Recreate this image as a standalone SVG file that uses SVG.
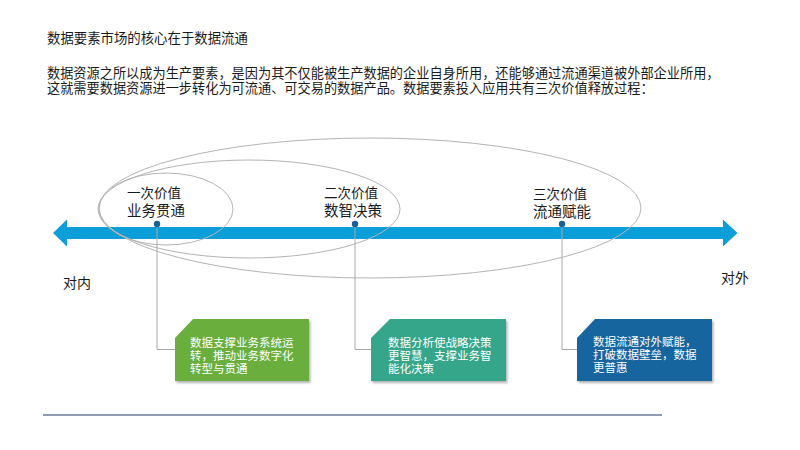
<svg xmlns="http://www.w3.org/2000/svg" width="800" height="450" viewBox="0 0 800 450">
<defs>
<style>
text{font-family:"Liberation Sans","Noto Sans CJK SC",sans-serif;fill:#1a1a1a}
.title{font-size:13.4px}
.para{font-size:13.2px}
.lbl1{font-size:13.5px}
.lbl2{font-size:14.5px}
.side{font-size:14px}
.bt{font-size:11.5px;fill:#ffffff}
.ell{fill:none;stroke:#b4b4b4;stroke-width:1}
.conn{fill:none;stroke:#a8a8a8;stroke-width:1}
.dot{fill:#1d5f93}
</style>
<filter id="sh" x="-10%" y="-10%" width="125%" height="130%">
<feDropShadow dx="1.5" dy="2" stdDeviation="1.2" flood-color="#000" flood-opacity="0.3"/>
</filter>
</defs>
<rect width="800" height="450" fill="#ffffff"/>
<text class="title" x="47" y="43">数据要素市场的核心在于数据流通</text>
<text class="para" x="47" y="78">数据资源之所以成为生产要素，是因为其不仅能被生产数据的企业自身所用，还能够通过流通渠道被外部企业所用，</text>
<text class="para" x="47" y="93">这就需要数据资源进一步转化为可流通、可交易的数据产品。数据要素投入应用共有三次价值释放过程：</text>

<g id="axis">
<polygon points="53,233 67,219.5 67,227 723,227 723,219.5 737.5,233 723,246.5 723,239 67,239 67,246.5" fill="#0b9ed9"/>
</g>

<g id="ellipses">
<ellipse class="ell" cx="166" cy="209" rx="67" ry="36"/>
<ellipse class="ell" cx="249" cy="209" rx="151" ry="49"/>
<ellipse class="ell" cx="370" cy="208" rx="271" ry="70"/>
</g>

<g id="connectors">
<polyline class="conn" points="157,224 157,349.5 175,349.5"/>
<polyline class="conn" points="355,224 355,349.5 371,349.5"/>
<polyline class="conn" points="562,224 562,349.5 577,349.5"/>
</g>

<g id="stage1">
<text class="lbl1" x="127" y="198">一次价值</text>
<text class="lbl2" x="127" y="216">业务贯通</text>
<circle class="dot" cx="157" cy="224" r="3.2"/>
</g>
<g id="stage2">
<text class="lbl1" x="324" y="198">二次价值</text>
<text class="lbl2" x="324" y="216">数智决策</text>
<circle class="dot" cx="355" cy="224" r="3.2"/>
</g>
<g id="stage3">
<text class="lbl1" x="533" y="199">三次价值</text>
<text class="lbl2" x="533" y="217">流通赋能</text>
<circle class="dot" cx="562" cy="224" r="3.2"/>
</g>

<g id="inner"><text class="side" x="63" y="288">对内</text></g>
<g id="outer"><text class="side" x="721" y="283">对外</text></g>

<g id="box1">
<polygon points="193,319 309,319 309,381 175,381 175,338" fill="#6aae3c" filter="url(#sh)"/>
<text class="bt" x="190" y="347">数据支撑业务系统运</text>
<text class="bt" x="190" y="360">转，推动业务数字化</text>
<text class="bt" x="190" y="373">转型与贯通</text>
</g>
<g id="box2">
<polygon points="390,319 506,319 506,381 371,381 371,338" fill="#35a68a" filter="url(#sh)"/>
<text class="bt" x="388" y="347">数据分析使战略决策</text>
<text class="bt" x="388" y="360">更智慧，支撑业务智</text>
<text class="bt" x="388" y="373">能化决策</text>
</g>
<g id="box3">
<polygon points="595,319 712,319 712,381 577,381 577,338" fill="#17659f" filter="url(#sh)"/>
<text class="bt" x="593" y="346">数据流通对外赋能，</text>
<text class="bt" x="593" y="359">打破数据壁垒，数据</text>
<text class="bt" x="593" y="372">更普惠</text>
</g>

<line x1="43" y1="415" x2="662" y2="415" stroke="#8f9bb3" stroke-width="2"/>
</svg>
